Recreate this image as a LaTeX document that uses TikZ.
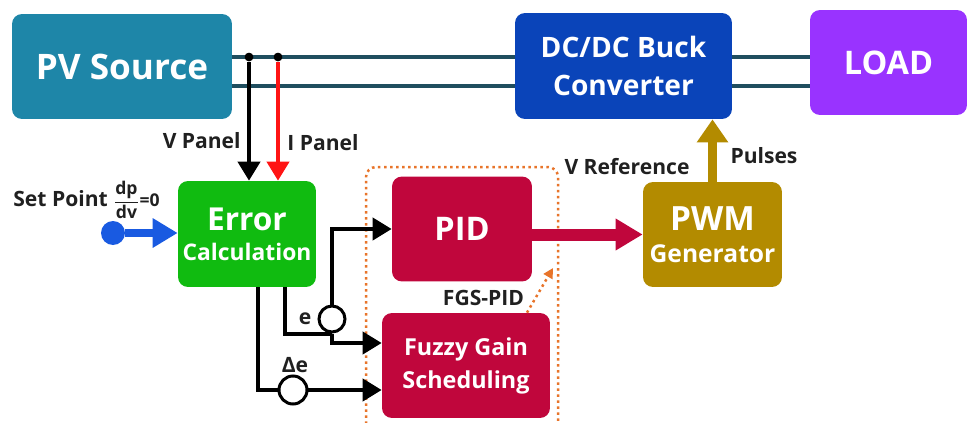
\documentclass[tikz,border=0pt]{standalone}
\usepackage{amsmath}
\usepackage{fontspec}
\setmainfont{Open Sans}
\usetikzlibrary{arrows.meta}

\definecolor{pvblue}{RGB}{30,134,168}
\definecolor{dcblue}{RGB}{10,68,185}
\definecolor{loadviolet}{RGB}{153,51,255}
\definecolor{errgreen}{RGB}{16,187,16}
\definecolor{pidred}{RGB}{192,6,60}
\definecolor{pwmgold}{RGB}{179,139,0}
\definecolor{busgray}{RGB}{31,78,95}
\definecolor{ipanelred}{RGB}{255,20,20}
\definecolor{spblue}{RGB}{25,90,225}
\definecolor{fgsorange}{RGB}{232,116,42}
\definecolor{lblgray}{RGB}{32,32,32}

\begin{document}
\begin{tikzpicture}[x=0.02cm, y=-0.02cm,
	block/.style={rounded corners=0.2cm, text=white, align=center, inner sep=0pt},
	bus/.style={draw=busgray, line width=0.08cm},
	wire/.style={draw=black, line width=0.08cm},
	sig/.style={wire, -{Triangle[width=0.44cm,length=0.38cm]}},
	lbl/.style={text=lblgray, inner sep=0pt, font=\bfseries\fontsize{12}{14}\selectfont},
	tap/.style={circle, fill=black, inner sep=0pt, minimum size=0.17cm},
	ring/.style={circle, draw=black, fill=white, line width=0.06cm, inner sep=0pt}]
\useasboundingbox (0,0) rectangle (968,423);

% blocks
\node[block, fill=pvblue, minimum width=4.4cm, minimum height=2.1cm, font=\bfseries\fontsize{20}{24}\selectfont] (pv) at (122,66.5) {PV Source};
\node[block, fill=dcblue, minimum width=4.34cm, minimum height=2.12cm, font=\bfseries\fontsize{16}{22}\selectfont] (dcdc) at (623.5,66) {DC/DC Buck\\Converter};
\node[block, fill=loadviolet, minimum width=3.14cm, minimum height=2.1cm, font=\bfseries\fontsize{18.5}{22}\selectfont] (load) at (888.5,62.5) {LOAD};
\node[block, fill=errgreen, minimum width=2.76cm, minimum height=2.12cm, font=\bfseries\fontsize{13}{17}\selectfont] (err) at (247,234) {{\fontsize{18}{17}\selectfont Error}\\Calculation};
\node[block, fill=pidred, minimum width=2.8cm, minimum height=2.1cm, font=\bfseries\fontsize{18.5}{22}\selectfont] (pid) at (462,229) {PID};
\node[block, fill=pidred, minimum width=3.36cm, minimum height=2.1cm, font=\bfseries\fontsize{13.3}{18.7}\selectfont] (fgs) at (466,365.5) {Fuzzy Gain\\Scheduling};
\node[block, fill=pwmgold, minimum width=2.78cm, minimum height=2.1cm, font=\bfseries\fontsize{14}{18}\selectfont] (pwm) at (712.5,234.5) {{\fontsize{19}{18}\selectfont PWM}\\Generator};

% FGS-PID frame
\draw[fgsorange, line width=0.05cm, dotted, rounded corners=0.2cm] (366,430) |- (558,167) -- (558,430);

% power bus
\coordinate (busA) at (0,57);
\coordinate (busB) at (0,86);
\draw[bus] (pv.east |- busA) -- (dcdc.west |- busA);
\draw[bus] (pv.east |- busB) -- (dcdc.west |- busB);
\draw[bus] (dcdc.east |- busA) -- (load.west |- busA);
\draw[bus] (dcdc.east |- busB) -- (load.west |- busB);

% measurements
\node[tap] (vtap) at (249,57) {};
\node[tap] (itap) at (278,57) {};
\draw[sig] (vtap) -- (vtap |- err.north);
\draw[sig, draw=ipanelred] (itap) -- (itap |- err.north);
\node[tap] at (vtap) {};
\node[tap] at (itap) {};

% set point
\node[circle, fill=spblue, inner sep=0pt, minimum size=0.48cm] (sp) at (113,233) {};
\draw[spblue, line width=0.15cm, -{Triangle[width=0.56cm,length=0.5cm]}] (sp) -- (sp -| err.west);

% error signals
\node[ring, minimum size=0.52cm] (e) at (332,319) {};
\node[ring, minimum size=0.56cm] (de) at (293,390) {};
\draw[wire] ([xshift=0.22cm]err.south) |- (de.west);
\draw[wire] ([xshift=0.76cm]err.south) |- (e.south);
\draw[sig] (de) -- (de -| fgs.west);
\draw[sig] (e.south) |- ([yshift=0.45cm]fgs.west);
\draw[sig] (e.north) |- (pid.west);

% control outputs
\coordinate (fgstip) at (553,268);
\draw[fgsorange, line width=0.05cm, dotted, -{Triangle[width=0.2cm,length=0.2cm]}] ([xshift=1.22cm]fgs.north) -- (fgstip);
\draw[pidred, line width=0.24cm, -{Triangle[width=0.6cm,length=0.54cm]}] (pwm.west -| pid.east) -- (pwm.west);
\draw[pwmgold, line width=0.18cm, -{Triangle[width=0.6cm,length=0.46cm]}] (pwm.north) -- (pwm.north |- dcdc.south);

% labels
\node[lbl, anchor=east] (vlbl) at (241,141) {V Panel};
\node[lbl, anchor=west] (ilbl) at (287,143) {I Panel};
\node[lbl, anchor=west] (splbl) at (13,200) {Set Point {\fontsize{10}{10}\selectfont$\dfrac{\text{dp}}{\text{dv}}$=0}};
\node[lbl] (elbl) at (305,319) {e};
\node[lbl] (delbl) at (295,365) {Δe};
\node[lbl] (fgslbl) at (483.5,297.5) {FGS-PID};
\node[lbl] (vreflbl) at (627,167) {V Reference};
\node[lbl] (pulselbl) at (764,156) {Pulses};
\end{tikzpicture}
\end{document}
